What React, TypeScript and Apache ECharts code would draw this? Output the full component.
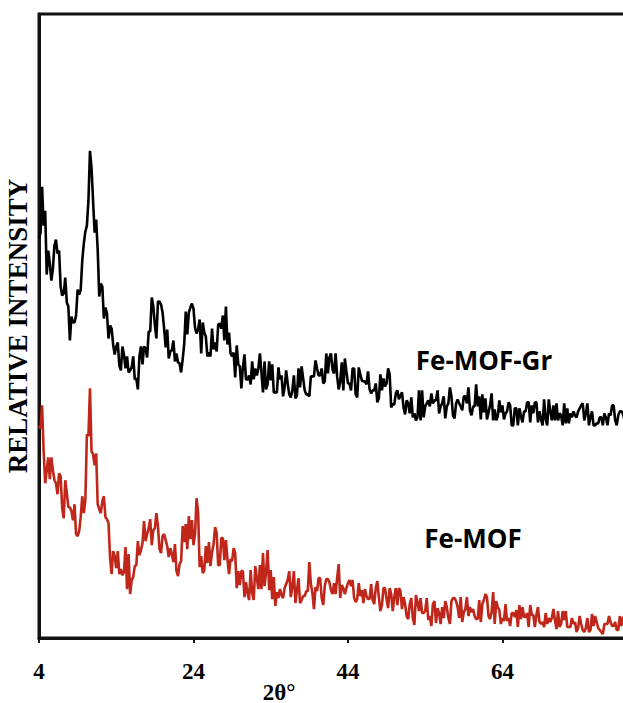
import React, { useEffect, useRef } from "react";
import * as echarts from "echarts";

// 2θ sampling grid of the measurement (degrees)
const twoThetaStart = 4;
const twoThetaStep = 0.2;

const xTicks = [4, 24, 44, 64];

const feMofGr = [
  400, 406, 452, 413, 428, 364, 388, 375, 358, 370,
  393, 399, 385, 388, 352, 343, 345, 361, 336, 332,
  298, 322, 316, 316, 323, 349, 344, 349, 378, 395,
  407, 413, 438, 488, 471, 438, 406, 419, 389, 342,
  355, 352, 320, 331, 325, 300, 313, 310, 294, 284,
  292, 296, 273, 268, 292, 284, 270, 282, 266, 268,
  271, 282, 259, 260, 249, 282, 292, 274, 292, 290,
  281, 307, 307, 341, 332, 314, 300, 337, 337, 334,
  326, 310, 291, 309, 280, 287, 288, 298, 277, 285,
  276, 275, 266, 279, 294, 327, 304, 326, 331, 335,
  330, 311, 305, 309, 319, 285, 316, 306, 302, 282,
  286, 282, 310, 289, 296, 287, 314, 315, 310, 323,
  298, 332, 294, 306, 285, 282, 286, 261, 293, 274,
  272, 250, 271, 284, 259, 259, 263, 254, 277, 259,
  270, 263, 270, 285, 266, 246, 277, 249, 254, 277,
  258, 274, 246, 246, 246, 271, 259, 263, 242, 251,
  268, 255, 244, 241, 248, 263, 240, 243, 270, 251,
  272, 260, 248, 244, 244, 242, 262, 262, 262, 278,
  270, 263, 263, 270, 255, 257, 285, 265, 281, 285,
  269, 265, 285, 262, 249, 257, 276, 248, 280, 267,
  255, 255, 248, 270, 270, 244, 241, 271, 264, 258,
  257, 257, 254, 267, 249, 245, 248, 248, 255, 236,
  240, 264, 248, 260, 252, 255, 270, 264, 231, 234,
  234, 245, 248, 239, 243, 246, 231, 224, 238, 235,
  225, 241, 221, 225, 218, 221, 248, 218, 248, 221,
  232, 235, 238, 232, 245, 235, 238, 238, 248, 225,
  232, 235, 242, 220, 232, 235, 251, 242, 223, 220,
  235, 239, 235, 232, 228, 242, 242, 235, 251, 228,
  223, 232, 232, 254, 232, 242, 219, 244, 226, 240,
  219, 226, 233, 245, 218, 229, 218, 222, 238, 226,
  233, 219, 225, 227, 236, 233, 213, 213, 230, 230,
  213, 230, 222, 216, 227, 227, 236, 236, 216, 233,
  225, 236, 236, 216, 227, 219, 213, 239, 219, 213,
  239, 227, 218, 233, 218, 235, 218, 225, 223, 213,
  235, 215, 230, 215, 225, 221, 227, 223, 221, 227,
  230, 233, 235, 218, 225, 235, 213, 221, 227, 213,
  213, 215, 215, 221, 221, 213, 225, 221, 213, 225,
  223, 233, 233, 218, 213, 223, 227, 227, 225, 218,
];

const feMof = [
  213, 210, 233, 187, 155, 168, 181, 159, 181, 168,
  158, 155, 144, 165, 162, 130, 120, 158, 145, 131,
  131, 127, 118, 134, 104, 102, 107, 121, 142, 125,
  138, 204, 202, 250, 187, 184, 173, 185, 134, 129,
  125, 137, 142, 121, 119, 115, 81, 64, 87, 82,
  70, 87, 64, 69, 63, 66, 91, 49, 84, 44,
  58, 61, 72, 73, 97, 83, 88, 95, 117, 97,
  104, 110, 119, 93, 108, 110, 125, 112, 89, 85,
  102, 104, 98, 92, 81, 90, 84, 76, 94, 67,
  62, 74, 77, 112, 96, 114, 89, 122, 99, 118,
  93, 104, 140, 126, 71, 82, 65, 68, 92, 75,
  96, 72, 86, 94, 111, 105, 73, 73, 100, 100,
  78, 98, 79, 64, 79, 77, 90, 85, 50, 67,
  53, 67, 67, 41, 56, 45, 38, 68, 45, 38,
  72, 60, 49, 73, 49, 85, 52, 66, 88, 48,
  68, 39, 61, 32, 46, 40, 49, 43, 40, 50,
  54, 58, 67, 41, 52, 67, 35, 48, 60, 35,
  38, 42, 42, 47, 47, 76, 54, 45, 29, 51,
  47, 60, 60, 40, 33, 52, 59, 59, 56, 48,
  44, 55, 44, 60, 74, 40, 53, 50, 44, 50,
  55, 58, 52, 58, 40, 36, 39, 55, 42, 48,
  35, 49, 42, 39, 39, 54, 38, 34, 50, 57,
  41, 27, 33, 50, 50, 39, 30, 50, 44, 27,
  41, 50, 33, 50, 47, 29, 41, 34, 22, 19,
  34, 40, 20, 13, 43, 36, 27, 40, 25, 25,
  27, 40, 18, 22, 12, 34, 37, 15, 30, 25,
  14, 31, 20, 37, 31, 20, 14, 37, 40, 40,
  37, 31, 20, 41, 16, 26, 29, 41, 22, 31,
  26, 29, 22, 19, 19, 38, 16, 34, 38, 44,
  41, 22, 19, 26, 46, 14, 37, 31, 28, 14,
  20, 17, 34, 17, 20, 12, 25, 25, 21, 28,
  11, 33, 19, 31, 21, 21, 25, 11, 33, 23,
  23, 11, 23, 31, 16, 14, 16, 11, 25, 14,
  20, 16, 20, 29, 18, 9, 27, 11, 14, 27,
  18, 27, 11, 11, 11, 20, 14, 16, 6, 10,
  22, 14, 8, 6, 10, 20, 6, 8, 24, 12,
  22, 16, 10, 8, 6, 4, 14, 14, 14, 22,
  16, 12, 12, 16, 8, 8, 22, 12, 20, 22,
];

const seriesNames = ["Fe-MOF-Gr", "Fe-MOF"];

function toPairs(vals: number[]) {
  return vals.map((v, i) => [
    +(twoThetaStart + i * twoThetaStep).toFixed(2),
    v,
  ]);
}

export default function App() {
  const ref = useRef<HTMLDivElement>(null);
  useEffect(() => {
    if (!ref.current) return;
    const chart = echarts.init(ref.current, null, { renderer: "svg" });
    const serif = "'Liberation Serif', 'Times New Roman', serif";
    const sans = "'Open Sans', 'Noto Sans', sans-serif";
    chart.setOption({
      animation: false,
      backgroundColor: "#ffffff",
      grid: {
        left: 39,
        top: 14,
        width: 587,
        height: 624,
        outerBoundsMode: "none",
        containLabel: false,
        show: true,
        borderColor: "#111",
        borderWidth: 3,
      },
      xAxis: {
        type: "value",
        min: 4,
        max: 80,
        axisLine: { show: true, lineStyle: { color: "#111", width: 3 } },
        axisTick: {
          show: true,
          customValues: xTicks,
          length: 5,
          lineStyle: { color: "#111", width: 2 },
        },
        axisLabel: {
          customValues: xTicks,
          color: "#000",
          fontFamily: serif,
          fontWeight: "bold",
          fontSize: 23,
          margin: 22,
        },
        splitLine: { show: false },
      },
      yAxis: {
        type: "value",
        min: 0,
        max: 625,
        name: "RELATIVE INTENSITY",
        nameLocation: "middle",
        nameGap: 8,
        nameTextStyle: {
          color: "#000",
          fontFamily: serif,
          fontWeight: "bold",
          fontSize: 27,
        },
        axisLine: { show: true, lineStyle: { color: "#111", width: 3 } },
        axisTick: { show: false },
        axisLabel: { show: false },
        splitLine: { show: false },
      },
      series: [
        {
          name: seriesNames[0],
          type: "line",
          data: toPairs(feMofGr),
          showSymbol: false,
          lineStyle: { color: "#000", width: 2.6 },
        },
        {
          name: seriesNames[1],
          type: "line",
          data: toPairs(feMof),
          showSymbol: false,
          lineStyle: { color: "#C0261A", width: 2.6 },
        },
      ],
      graphic: [
        {
          type: "text",
          x: 484,
          y: 360,
          style: {
            text: seriesNames[0],
            fill: "#000",
            font: `bold 26px ${sans}`,
            textAlign: "center",
            textVerticalAlign: "middle",
          },
        },
        {
          type: "text",
          x: 473,
          y: 538,
          style: {
            text: seriesNames[1],
            fill: "#000",
            font: `bold 26px ${sans}`,
            textAlign: "center",
            textVerticalAlign: "middle",
          },
        },
        {
          type: "text",
          x: 279,
          y: 692,
          style: {
            text: "2θ°",
            fill: "#000",
            font: `bold 23px ${serif}`,
            textAlign: "center",
            textVerticalAlign: "middle",
          },
        },
      ],
    });
    return () => chart.dispose();
  }, []);
  return (
    <div
      ref={ref}
      style={{ position: "absolute", left: 0, top: 0, width: 623, height: 703 }}
    />
  );
}
